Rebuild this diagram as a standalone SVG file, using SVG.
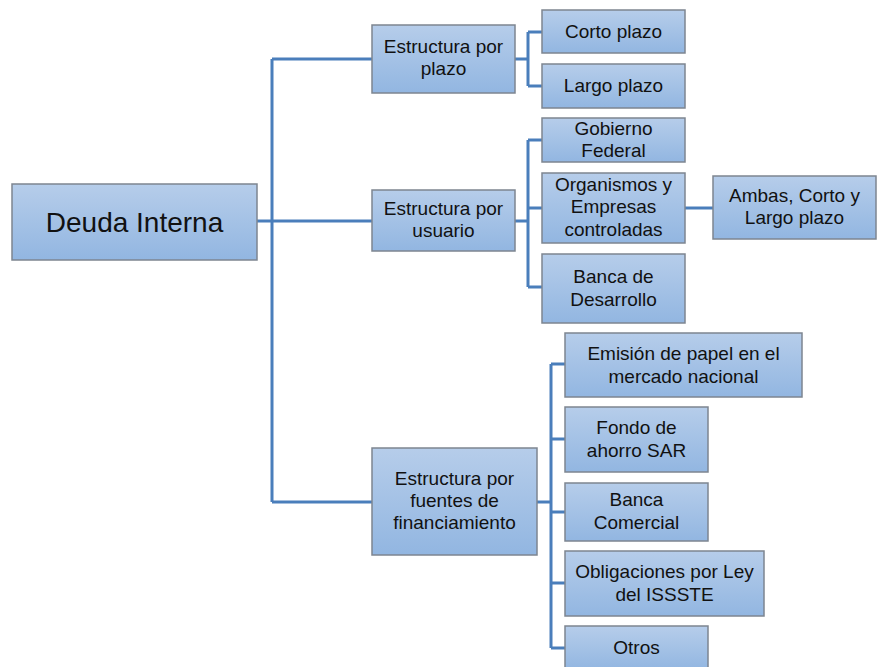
<svg xmlns="http://www.w3.org/2000/svg" width="877" height="667" viewBox="0 0 877 667">
<defs>
<linearGradient id="g" x1="0" y1="0" x2="0" y2="1">
<stop offset="0" stop-color="#b6cdea"/>
<stop offset="1" stop-color="#92b6e1"/>
</linearGradient>
<style>
.b{fill:url(#g);stroke:#7d8590;stroke-width:1.5}
.t{font-family:"Liberation Sans",Arial,sans-serif;font-size:19px;fill:#111;text-anchor:middle}
.c{fill:none;stroke:#4a7ebb;stroke-width:3}
</style>
</defs>
<rect width="877" height="667" fill="#fff"/>
<g id="connectors" class="c">
<path d="M257 221H272M272 59V502M272 59H372M272 221H372M272 502H372"/>
<path d="M515 59H528M528 32V86M528 32H542M528 86H542"/>
<path d="M515 221H528M528 140V287M528 140H542M528 208H542M528 287H542"/>
<path d="M685 208H713"/>
<path d="M537 502H551M551 364V648M551 364H565M551 439H565M551 512H565M551 583H565M551 648H565"/>
</g>
<g id="deuda"><rect class="b" x="12" y="184" width="245" height="76"/><text class="t" x="134.5" y="232" style="font-size:28px">Deuda Interna</text></g>
<g id="plazo"><rect class="b" x="372" y="25" width="143" height="68"/><text class="t" x="443.5" y="53">Estructura por</text><text class="t" x="443.5" y="75">plazo</text></g>
<g id="usuario"><rect class="b" x="372" y="190" width="143" height="61"/><text class="t" x="443.5" y="215">Estructura por</text><text class="t" x="443.5" y="237">usuario</text></g>
<g id="fuentes"><rect class="b" x="372" y="448" width="165" height="107"/><text class="t" x="454.5" y="485">Estructura por</text><text class="t" x="454.5" y="507">fuentes de</text><text class="t" x="454.5" y="529">financiamiento</text></g>
<g id="corto"><rect class="b" x="542" y="10" width="143" height="43"/><text class="t" x="613.5" y="38">Corto plazo</text></g>
<g id="largo"><rect class="b" x="542" y="64" width="143" height="44"/><text class="t" x="613.5" y="92">Largo plazo</text></g>
<g id="gobierno"><rect class="b" x="542" y="118" width="143" height="44"/><text class="t" x="613.5" y="135">Gobierno</text><text class="t" x="613.5" y="157">Federal</text></g>
<g id="organismos"><rect class="b" x="542" y="173" width="143" height="70"/><text class="t" x="613.5" y="191">Organismos y</text><text class="t" x="613.5" y="213">Empresas</text><text class="t" x="613.5" y="236">controladas</text></g>
<g id="bancadesarrollo"><rect class="b" x="542" y="254" width="143" height="69"/><text class="t" x="613.5" y="283">Banca de</text><text class="t" x="613.5" y="306">Desarrollo</text></g>
<g id="ambas"><rect class="b" x="713" y="176" width="163" height="63"/><text class="t" x="794.5" y="202">Ambas, Corto y</text><text class="t" x="794.5" y="224">Largo plazo</text></g>
<g id="emision"><rect class="b" x="565" y="333" width="237" height="64"/><text class="t" x="683.5" y="360">Emisión de papel en el</text><text class="t" x="683.5" y="383">mercado nacional</text></g>
<g id="fondo"><rect class="b" x="565" y="407" width="143" height="65"/><text class="t" x="636.5" y="434">Fondo de</text><text class="t" x="636.5" y="457">ahorro SAR</text></g>
<g id="bancacomercial"><rect class="b" x="565" y="483" width="143" height="58"/><text class="t" x="636.5" y="506">Banca</text><text class="t" x="636.5" y="529">Comercial</text></g>
<g id="obligaciones"><rect class="b" x="565" y="551" width="199" height="65"/><text class="t" x="664.5" y="578">Obligaciones por Ley</text><text class="t" x="664.5" y="601">del ISSSTE</text></g>
<g id="otros"><rect class="b" x="565" y="626" width="143" height="44"/><text class="t" x="636.5" y="654">Otros</text></g>
</svg>
